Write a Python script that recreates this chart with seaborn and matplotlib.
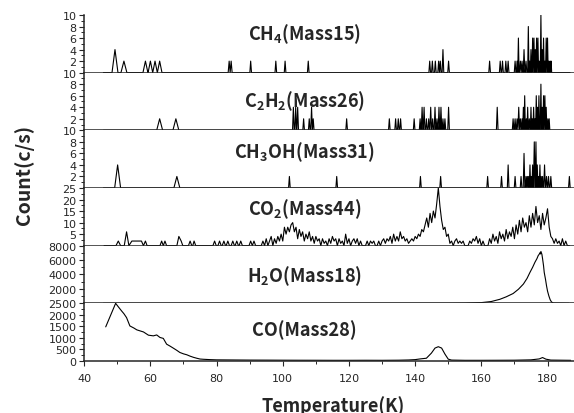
import matplotlib
matplotlib.use("Agg")
import matplotlib.pyplot as plt
import seaborn as sns
from matplotlib.ticker import MultipleLocator

# ---- data ----
# spike channels: temperature (K) of each non-zero reading and its count (c/s)
ch4_t = [49.3, 52.0, 58.5, 60.0, 61.4, 62.8, 83.8, 84.4, 90.3, 97.9, 100.7, 107.7,
         144.4, 145.2, 146.1, 147.1, 147.6, 148.4, 150.1, 162.5, 165.7, 166.4, 167.4, 168.1,
         170.2, 170.8, 171.2, 171.8, 172.3, 172.9, 173.5, 174.2, 174.6, 175.0, 175.5, 175.9,
         176.3, 176.7, 177.1, 177.5, 178.0, 178.4, 178.8, 179.2, 179.6, 180.0, 180.4, 180.8, 181.1]
ch4_c = [4, 2, 2, 2, 2, 2, 2, 2, 2, 2, 2, 2,
         2, 2, 2, 2, 2, 4, 2, 2, 2, 2, 2, 2,
         2, 2, 6, 2, 2, 4, 2, 8, 2, 4, 6, 6,
         4, 6, 6, 2, 10, 4, 6, 2, 6, 6, 2, 2, 2]

c2h2_t = [62.8, 67.7, 103.2, 103.9, 104.5, 106.3, 108.0, 108.7, 109.2, 119.3, 132.2, 134.1,
          134.9, 135.6, 139.7, 141.5, 142.1, 142.7, 143.4, 144.1, 144.7, 145.3, 146.0, 146.6,
          147.2, 147.8, 148.4, 149.0, 150.1, 164.8, 169.6, 170.2, 170.8, 171.3, 171.8, 172.3,
          172.7, 173.1, 173.6, 174.0, 174.5, 175.0, 175.4, 175.8, 176.2, 176.6, 177.0, 177.4,
          178.0, 178.4, 178.8, 179.2, 179.6, 180.1, 180.5]
c2h2_c = [2, 2, 4, 4, 4, 2, 2, 4, 2, 2, 2, 2,
          2, 2, 2, 2, 4, 4, 2, 2, 4, 2, 4, 2,
          4, 4, 2, 2, 4, 4, 2, 2, 2, 4, 2, 2,
          4, 6, 2, 4, 2, 4, 2, 4, 2, 6, 4, 6,
          8, 4, 6, 6, 4, 2, 2]

ch3oh_t = [50.1, 68.0, 102.0, 116.3, 141.6, 147.7, 161.9, 166.1, 168.1, 170.2, 172.0, 172.9,
           173.5, 173.9, 174.3, 174.7, 175.1, 175.5, 176.0, 176.5, 176.9, 177.3, 177.7, 178.1,
           178.5, 179.1, 179.7, 180.3, 181.0, 186.6]
ch3oh_c = [4, 2, 2, 2, 2, 2, 2, 2, 4, 2, 2, 6,
           2, 2, 2, 4, 2, 4, 8, 8, 4, 2, 4, 2,
           2, 4, 2, 2, 2, 2]

# continuous channels: (temperature K, count c/s)
co2_pts = [
    (46.0, 0), (49.6, 0), (50.3, 2), (51.0, 0), (52.1, 0), (52.8, 6), (53.5, 0), (54.4, 2),
    (57.3, 2), (57.9, 0), (58.5, 2), (59.0, 0), (62.9, 0), (63.4, 2), (63.9, 0), (64.4, 2),
    (64.9, 0), (68.0, 0), (68.6, 4), (69.3, 2), (69.8, 0), (71.5, 0), (72.0, 2), (72.5, 0),
    (72.8, 0), (73.2, 2), (73.7, 0), (78.9, 0), (79.4, 2), (79.9, 0), (80.4, 0), (80.9, 2),
    (81.4, 0), (81.7, 0), (82.2, 2), (82.7, 0), (82.9, 0), (83.4, 2), (83.9, 0), (84.4, 0),
    (84.9, 2), (85.4, 0), (85.6, 0), (86.1, 2), (86.6, 0), (86.8, 0), (87.3, 2), (87.8, 0),
    (89.8, 0), (90.3, 2), (90.8, 0), (91.3, 2), (91.8, 0),
    (93.5, 0), (94.0, 2), (94.5, 0), (95.0, 3), (95.5, 0), (96.0, 2), (96.5, 4), (97.0, 0),
    (97.5, 3), (98.0, 1), (98.5, 4), (99.0, 2), (99.5, 5), (100.0, 2), (100.5, 8), (101.0, 5),
    (101.5, 8), (102.0, 6), (102.5, 9), (103.0, 10), (103.5, 6), (104.0, 8), (104.5, 3),
    (105.0, 7), (105.5, 4), (106.0, 6), (106.5, 2), (107.0, 5), (107.5, 3), (108.0, 6),
    (108.5, 2), (109.0, 4), (109.5, 1), (110.0, 4), (110.5, 2), (111.0, 3), (111.5, 0),
    (112.0, 3), (112.5, 1), (113.0, 2), (113.5, 0), (114.0, 3), (114.5, 1), (115.0, 4),
    (115.5, 2), (116.0, 3), (116.5, 0), (117.0, 3), (117.5, 1), (118.0, 2), (118.5, 0),
    (119.0, 5), (119.5, 1), (120.0, 3), (120.5, 0), (121.0, 2), (121.5, 3), (122.0, 1),
    (122.5, 3), (123.0, 0), (123.5, 2), (124.0, 0), (125.0, 0), (125.5, 2), (126.0, 0),
    (126.5, 2), (127.0, 1), (127.5, 2), (128.0, 0), (128.5, 0), (129.0, 2), (129.5, 0),
    (130.0, 2), (130.5, 3), (131.0, 1), (131.5, 3), (132.0, 2), (132.5, 4), (133.0, 1),
    (133.5, 5), (134.0, 2), (134.5, 4), (135.0, 2), (135.5, 6), (136.0, 3), (136.5, 4),
    (137.0, 2), (137.5, 3), (138.0, 1), (138.5, 2), (139.0, 3), (139.5, 2), (140.0, 4),
    (140.5, 3), (141.0, 5), (141.5, 4), (142.0, 7), (142.5, 6), (143.0, 9), (143.5, 12),
    (144.0, 8), (144.5, 14), (145.0, 10), (145.5, 15), (146.0, 12), (146.5, 18), (147.0, 25),
    (147.5, 17), (148.0, 11), (148.5, 7), (149.0, 8), (149.5, 4), (150.0, 5), (150.5, 1),
    (151.0, 2), (151.5, 0), (152.0, 2), (152.5, 3), (153.0, 1), (153.5, 2), (154.0, 1),
    (154.5, 2), (155.0, 0), (156.0, 0), (156.5, 2), (157.0, 1), (157.5, 3), (158.0, 2),
    (158.5, 4), (159.0, 1), (159.5, 3), (160.0, 0), (160.5, 2), (161.0, 0), (162.0, 0),
    (162.5, 3), (163.0, 1), (163.5, 5), (164.0, 2), (164.5, 4), (165.0, 1), (165.5, 6),
    (166.0, 3), (166.5, 5), (167.0, 2), (167.5, 7), (168.0, 3), (168.5, 6), (169.0, 4),
    (169.5, 8), (170.0, 3), (170.5, 9), (171.0, 5), (171.5, 11), (172.0, 6), (172.5, 12),
    (173.0, 8), (173.5, 10), (174.0, 6), (174.5, 13), (175.0, 8), (175.5, 14), (176.0, 9),
    (176.5, 17), (177.0, 10), (177.5, 13), (178.0, 7), (178.5, 14), (179.0, 9), (179.5, 12),
    (180.0, 16), (180.5, 8), (181.0, 4), (181.5, 3), (182.0, 1), (182.5, 3), (183.0, 1),
    (183.5, 2), (184.0, 0), (184.5, 3), (185.0, 0), (185.5, 2), (186.0, 0), (186.6, 0),
]

h2o_pts = [
    (45.8, 0), (150.0, 0), (155.0, 20), (160.0, 100), (163.0, 250), (165.6, 560), (167.5, 900),
    (169.6, 1360), (171.2, 1950), (172.7, 2670), (173.8, 3450), (174.7, 4300), (175.5, 5000),
    (176.2, 5700), (176.8, 6200), (177.2, 6640), (177.4, 6750), (177.6, 6900), (177.8, 7050),
    (177.9, 6850), (178.0, 7200), (178.3, 6800), (178.5, 6200), (178.8, 5200), (179.0, 4300),
    (179.4, 3300), (179.7, 2430), (180.0, 1700), (180.4, 1030), (180.8, 500), (181.2, 190),
    (181.8, 30), (186.5, 0),
]

co_pts = [
    (46.5, 1480), (49.5, 2500), (50.3, 2350), (51.3, 2170), (52.0, 2050), (52.8, 1880),
    (53.8, 1520), (55.0, 1430), (55.9, 1350), (57.0, 1300), (57.9, 1260), (59.4, 1120),
    (60.9, 1090), (61.9, 1130), (62.9, 1020), (63.9, 980), (64.9, 730), (66.0, 640),
    (66.9, 560), (68.0, 460), (68.9, 370), (70.0, 310), (71.0, 270), (72.0, 210), (73.0, 160),
    (74.0, 120), (75.0, 85), (76.0, 75), (78.0, 60), (80.0, 50), (85.0, 45), (90.0, 40),
    (95.0, 38), (100.0, 35), (105.0, 33), (110.0, 32), (115.0, 30), (120.0, 30), (125.0, 32),
    (130.0, 30), (135.0, 35), (138.0, 45), (140.0, 60), (141.5, 90), (143.4, 120),
    (144.9, 340), (146.0, 560), (147.0, 620), (148.0, 560), (149.0, 300), (150.0, 80),
    (151.0, 40), (155.0, 30), (160.0, 30), (165.0, 32), (170.0, 35), (175.0, 50),
    (177.5, 90), (178.5, 150), (179.5, 80), (181.0, 40), (187.0, 30),
]

labels = ["CH$_4$(Mass15)", "C$_2$H$_2$(Mass26)", "CH$_3$OH(Mass31)",
          "CO$_2$(Mass44)", "H$_2$O(Mass18)", "CO(Mass28)"]
y_tops = [10, 10, 10, 25, 8000, 2500]
y_steps = [2, 2, 2, 5, 2000, 500]
x_ticks = [40, 60, 80, 100, 120, 140, 160, 180]


def spike_line(temps, counts, t_start, t_end):
    # each reading sits between zero readings on either side
    xs, ys = [t_start], [0]
    for i, (t, c) in enumerate(zip(temps, counts)):
        w = 0.9 if t < 90 else 0.25
        if i > 0:
            w = min(w, (t - temps[i - 1]) / 2)
        if i < len(temps) - 1:
            w = min(w, (temps[i + 1] - t) / 2)
        xs += [t - w, t, t + w]
        ys += [0, c, 0]
    xs.append(t_end)
    ys.append(0)
    return xs, ys


series = [
    spike_line(ch4_t, ch4_c, 45.8, 186.8),
    spike_line(c2h2_t, c2h2_c, 45.8, 186.8),
    spike_line(ch3oh_t, ch3oh_c, 45.8, 186.8),
    [list(v) for v in zip(*co2_pts)],
    [list(v) for v in zip(*h2o_pts)],
    [list(v) for v in zip(*co_pts)],
]

sns.set_style("ticks")
plt.rcParams["font.family"] = ["DejaVu Sans"]
plt.rcParams["mathtext.fontset"] = "custom"
plt.rcParams["mathtext.rm"] = "Noto Sans CJK JP:bold"
plt.rcParams["mathtext.it"] = "Noto Sans CJK JP:bold"
plt.rcParams["mathtext.bf"] = "Noto Sans CJK JP:bold"

fig, axes = plt.subplots(6, 1, sharex=True, figsize=(5.74, 4.14), dpi=100)
fig.subplots_adjust(left=0.1467, right=1.0, top=0.9614, bottom=0.1256, hspace=0)

bold = dict(family=["Noto Sans CJK JP", "DejaVu Sans"], weight="bold")

for i, ax in enumerate(axes):
    xs, ys = series[i]
    sns.lineplot(x=xs, y=ys, ax=ax, color="black", lw=0.8, sort=False, estimator=None)
    ax.set_xlim(40, 188)
    ax.set_ylim(0, y_tops[i])
    first = 0 if i == 5 else y_steps[i]
    ax.set_yticks(list(range(first, y_tops[i] + 1, y_steps[i])))
    ax.yaxis.set_minor_locator(MultipleLocator(y_steps[i] / 2))
    ax.set_xticks(x_ticks)
    ax.xaxis.set_minor_locator(MultipleLocator(10))
    for side in ["top", "right"]:
        ax.spines[side].set_visible(False)
    for side in ["left", "bottom"]:
        ax.spines[side].set_linewidth(1.1)
    ax.tick_params(which="major", direction="out", length=3.5, width=0.8,
                   labelsize=8, pad=2)
    ax.tick_params(which="minor", direction="out", length=2, width=0.7)
    ax.tick_params(axis="x", which="major", pad=5)
    ax.text(0.45, [0.58, 0.42, 0.53, 0.54, 0.38, 0.45][i], labels[i],
            transform=ax.transAxes, ha="center", va="baseline", fontsize=13, **bold)

axes[-1].set_xlabel("")
fig.text(0.042, 0.578, "Count(c/s)", rotation=90, ha="center", va="center",
         fontsize=14, **bold)
fig.text(0.581, 0.006, "Temperature(K)", ha="center", va="baseline",
         fontsize=13, **bold)

fig.savefig("out.png", dpi=100)
